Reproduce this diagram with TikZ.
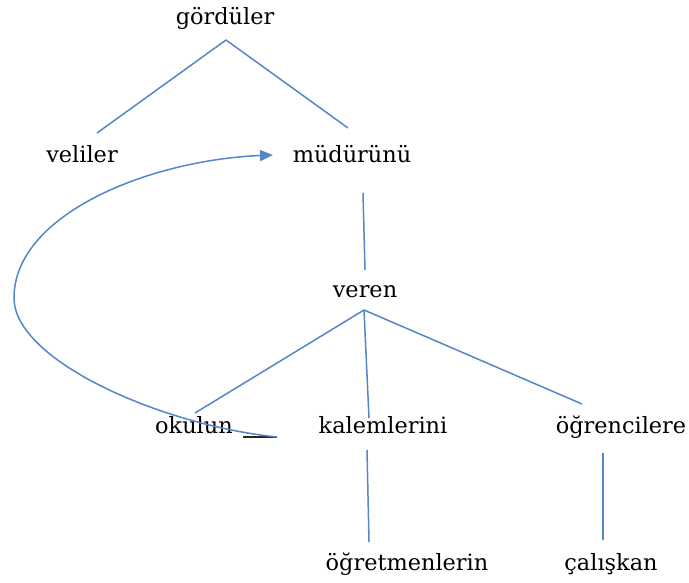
\documentclass[tikz,border=0pt]{standalone}
\usepackage{fontspec}
\setmainfont{DejaVu Serif}
\usetikzlibrary{arrows.meta}
\definecolor{linkblue}{RGB}{84,134,200}
\tikzset{
  word/.style={anchor=base, inner sep=0pt, font=\fontsize{22.5}{27}\selectfont, text=black},
  link/.style={draw=linkblue, line width=1.5bp},
}
\begin{document}
\begin{tikzpicture}[x=1bp,y=-1bp]
\useasboundingbox (0,0) rectangle (689,583);
% words
\node[word] (gordu) at (225,25) {gördüler};
\node[word] (veli) at (82,163) {veliler};
\node[word] (mudur) at (352,163) {müdürünü};
\node[word] (veren) at (365,297) {veren};
\node[word] (okul) at (194,433) {okulun};
\node[word] (kalem) at (383,433) {kalemlerini};
\node[word] (ogrenci) at (621,433) {öğrencilere};
\node[word] (ogretmen) at (407,570) {öğretmenlerin};
\node[word] (calis) at (611,570) {çalışkan};
% connector ends
\coordinate (gordu-b) at (226,40);
\coordinate (veli-t) at (97,133);
\coordinate (mudur-t) at (348,128);
\coordinate (mudur-b) at (363,193);
\coordinate (veren-t) at (365,270);
\coordinate (veren-b) at (364,310);
\coordinate (okul-t) at (195,413);
\coordinate (kalem-t) at (369,418);
\coordinate (ogrenci-t) at (582,404);
\coordinate (kalem-b) at (367,450);
\coordinate (ogretmen-t) at (369,542);
\coordinate (ogrenci-b) at (603,453);
\coordinate (calis-t) at (603,540);
\coordinate (blank-l) at (243,437);
\coordinate (blank-r) at (277,437);
\coordinate (mudur-w) at (273,155);
% tree links
\draw[link] (gordu-b) -- (veli-t);
\draw[link] (gordu-b) -- (mudur-t);
\draw[link] (mudur-b) -- (veren-t);
\draw[link] (veren-b) -- (okul-t);
\draw[link] (veren-b) -- (kalem-t);
\draw[link] (veren-b) -- (ogrenci-t);
\draw[link] (kalem-b) -- (ogretmen-t);
\draw[link] (ogrenci-b) -- (calis-t);
% blank after okulun
\draw[black!85, line width=1.8bp] (blank-l) -- (blank-r);
% curved arrow
\draw[link, -{Triangle[length=13bp,width=11bp]}]
  (blank-r) .. controls (160,425) and (14,360) .. (14,298)
  .. controls (14,214) and (150,160) .. (mudur-w);
\end{tikzpicture}
\end{document}
